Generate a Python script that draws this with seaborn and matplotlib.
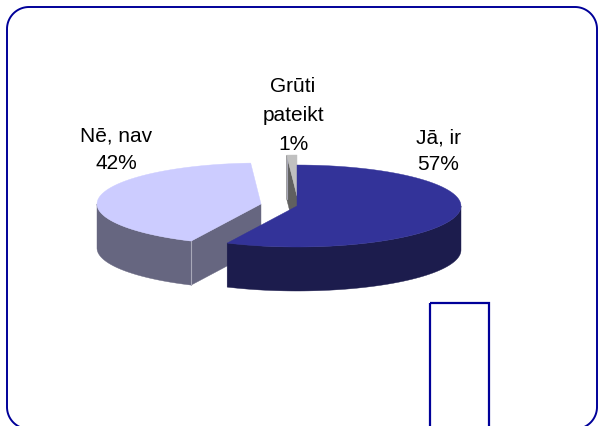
import numpy as np
import matplotlib
matplotlib.use("Agg")
import matplotlib.pyplot as plt
from matplotlib.patches import Polygon, Rectangle
import seaborn as sns

# ---- data ----
categories = ["Jā, ir", "Nē, nav", "Grūti pateikt"]
values = [57, 42, 1]
label_texts = ["Jā, ir\n57%", "Nē, nav\n42%", "Grūti\npateikt\n1%"]

# ---- style ----
top_colors = ["#333399", "#CCCCFF", "#C0C0C0"]
side_colors = ["#1C1C4D", "#666680", "#606060"]
explode_px = [(0, 0), (-36, -2), (0, -10)]
label_pos = [(438, 129), (116, 127), (293, 77)]
label_spacing = [1.5, 1.55, 1.65]

sns.set_theme(style="white")
plt.rcParams["font.family"] = ["Liberation Sans", "DejaVu Sans"]

fig = plt.figure(figsize=(5.98, 4.27), dpi=100)
ax = fig.add_axes([0, 0, 1, 1])
ax.set_xlim(0, 598)
ax.set_ylim(427, 0)
ax.axis("off")

cx, cy, a, b, depth = 297, 207, 164, 41, 44

# angles: start at 90 deg, go clockwise
fr = np.array(values, dtype=float) / sum(values)
cum = np.concatenate([[0], np.cumsum(fr)])
slices = []
for i in range(len(values)):
    th_hi = 90 - 360 * cum[i]
    th_lo = 90 - 360 * cum[i + 1]
    slices.append((th_lo, th_hi))


def pt(th, off, dz=0.0):
    r = np.deg2rad(th)
    return (cx + off[0] + a * np.cos(r), cy + off[1] - b * np.sin(r) + dz)


def arc(t0, t1, off, dz=0.0, n=80):
    ts = np.linspace(t0, t1, n)
    return [pt(t, off, dz) for t in ts]


def draw_slice(i, z):
    th_lo, th_hi = slices[i]
    off = explode_px[i]
    apex = (cx + off[0], cy + off[1])
    # outer side (front half)
    for k in (-1, 0, 1):
        f0, f1 = 180 + 360 * k, 360 + 360 * k
        s0, s1 = max(th_lo, f0), min(th_hi, f1)
        if s1 > s0:
            poly = arc(s0, s1, off) + arc(s1, s0, off, depth)
            ax.add_patch(Polygon(poly, closed=True, fc=side_colors[i],
                                 ec=side_colors[i], lw=0.3, zorder=z))
    # cut faces
    for th, nrm in ((th_lo, th_lo - 90), (th_hi, th_hi + 90)):
        if np.sin(np.deg2rad(nrm)) < -1e-6:
            p = pt(th, off)
            poly = [apex, p, (p[0], p[1] + depth), (apex[0], apex[1] + depth)]
            ax.add_patch(Polygon(poly, closed=True, fc=side_colors[i],
                                 ec=side_colors[i], lw=0.3, zorder=z + 0.1))
            ax.plot([p[0], p[0]], [p[1], p[1] + depth], color="#A8A8B8",
                    lw=0.8, zorder=z + 0.2)
    # top
    poly = [apex] + arc(th_lo, th_hi, off)
    ax.add_patch(Polygon(poly, closed=True, fc=top_colors[i],
                         ec=top_colors[i], lw=0.3, zorder=z + 0.5))


draw_slice(1, 2)
draw_slice(2, 3)
draw_slice(0, 4)

for txt, (x, y), ls in zip(label_texts, label_pos, label_spacing):
    ax.text(x, y, txt, ha="center", va="top", fontsize=15,
            linespacing=ls, color="black", zorder=6)

# frame (rounded border)
x0, x1, y0, y1, r = 7, 597, 8, 430, 22
def corner(cxx, cyy, t0, t1):
    ts = np.deg2rad(np.linspace(t0, t1, 30))
    return [(cxx + r * np.cos(t), cyy - r * np.sin(t)) for t in ts]
border = (corner(x0 + r, y0 + r, 180, 90) + corner(x1 - r, y0 + r, 90, 0)
          + corner(x1 - r, y1 - r, 0, -90) + corner(x0 + r, y1 - r, -90, -180))
ax.add_patch(Polygon(border, closed=True, fc="none", ec="#000099", lw=1.4,
                     zorder=1, clip_on=False))
ax.add_patch(Rectangle((430, 304), 59, 140, fc="none", ec="#000099",
                       lw=1.6, zorder=1))

fig.savefig("out.png", dpi=100)
